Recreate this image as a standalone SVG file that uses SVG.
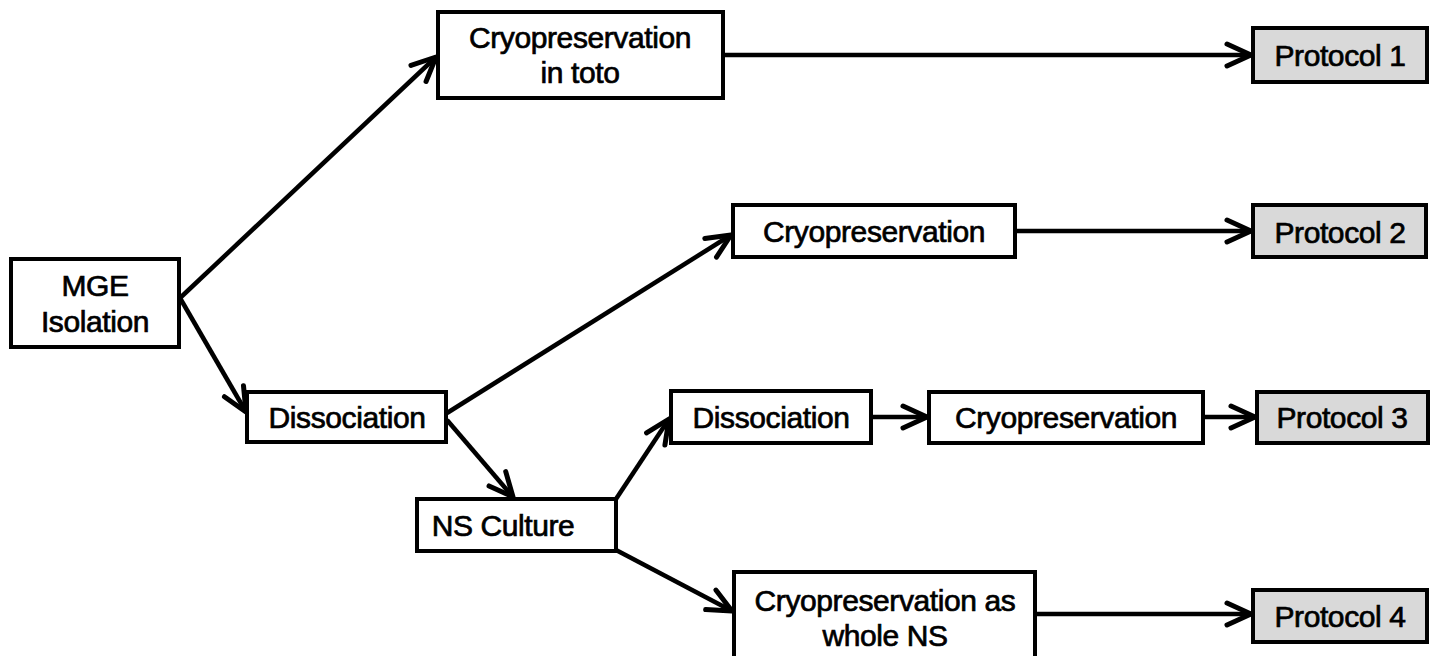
<svg xmlns="http://www.w3.org/2000/svg" width="1435" height="656" viewBox="0 0 1435 656">
<defs>
<style>
.box{fill:#fff;stroke:#000;stroke-width:4}
.proto{fill:#d9d9d9;stroke:#000;stroke-width:4}
.t{font-family:"Liberation Sans",Arial,sans-serif;font-size:30px;letter-spacing:-0.4px;text-anchor:middle;fill:#000;stroke:#000;stroke-width:0.7}
.c{stroke:#000;stroke-width:4.5;fill:none;marker-end:url(#ah)}
</style>
<marker id="ah" markerUnits="userSpaceOnUse" markerWidth="32" markerHeight="32" viewBox="0 0 32 32" refX="28" refY="16" orient="auto">
<path d="M4,5 L28,16 L4,27" fill="none" stroke="#000" stroke-width="5" stroke-linejoin="round" stroke-linecap="round"/>
</marker>
</defs>
<rect width="1435" height="656" fill="#fff"/>
<g id="connectors">
<line class="c" x1="180" y1="298" x2="436" y2="57"/>
<line class="c" x1="180" y1="298" x2="246" y2="412"/>
<line class="c" x1="447" y1="413" x2="731" y2="235"/>
<line class="c" x1="447" y1="420" x2="513" y2="497"/>
<line class="c" x1="616" y1="499" x2="669" y2="419"/>
<line class="c" x1="616" y1="550" x2="732" y2="611"/>
<line class="c" x1="871" y1="417" x2="927" y2="417"/>
<line class="c" x1="1203" y1="417" x2="1255" y2="417"/>
<line class="c" x1="723" y1="55" x2="1251" y2="55"/>
<line class="c" x1="1015" y1="231" x2="1251" y2="231"/>
<line class="c" x1="1035" y1="614" x2="1251" y2="614"/>
</g>
<g id="mge">
<rect class="box" x="11" y="259" width="168" height="88"/>
<text class="t" x="95" y="296">MGE</text>
<text class="t" x="95" y="332">Isolation</text>
</g>
<g id="cryo-toto">
<rect class="box" x="438" y="12" width="285" height="86"/>
<text class="t" x="580" y="48">Cryopreservation</text>
<text class="t" x="580" y="83">in toto</text>
</g>
<g id="dissociation1">
<rect class="box" x="247" y="392" width="199" height="50"/>
<text class="t" x="347" y="428">Dissociation</text>
</g>
<g id="cryo2">
<rect class="box" x="733" y="205" width="282" height="52"/>
<text class="t" x="874" y="242">Cryopreservation</text>
</g>
<g id="ns-culture">
<rect class="box" x="417" y="499" width="199" height="52"/>
<text class="t" x="503" y="536">NS Culture</text>
</g>
<g id="dissociation2">
<rect class="box" x="671" y="391" width="200" height="52"/>
<text class="t" x="771" y="428">Dissociation</text>
</g>
<g id="cryo3">
<rect class="box" x="929" y="392" width="274" height="51"/>
<text class="t" x="1066" y="428">Cryopreservation</text>
</g>
<g id="cryo-ns">
<rect class="box" x="734" y="572" width="301" height="90"/>
<text class="t" x="885" y="611">Cryopreservation as</text>
<text class="t" x="885" y="646">whole NS</text>
</g>
<g id="protocol1">
<rect class="proto" x="1253" y="28" width="174" height="54"/>
<text class="t" x="1340" y="66">Protocol 1</text>
</g>
<g id="protocol2">
<rect class="proto" x="1253" y="205" width="173" height="52"/>
<text class="t" x="1340" y="243">Protocol 2</text>
</g>
<g id="protocol3">
<rect class="proto" x="1257" y="392" width="171" height="51"/>
<text class="t" x="1342" y="428">Protocol 3</text>
</g>
<g id="protocol4">
<rect class="proto" x="1253" y="590" width="174" height="52"/>
<text class="t" x="1340" y="627">Protocol 4</text>
</g>
</svg>
